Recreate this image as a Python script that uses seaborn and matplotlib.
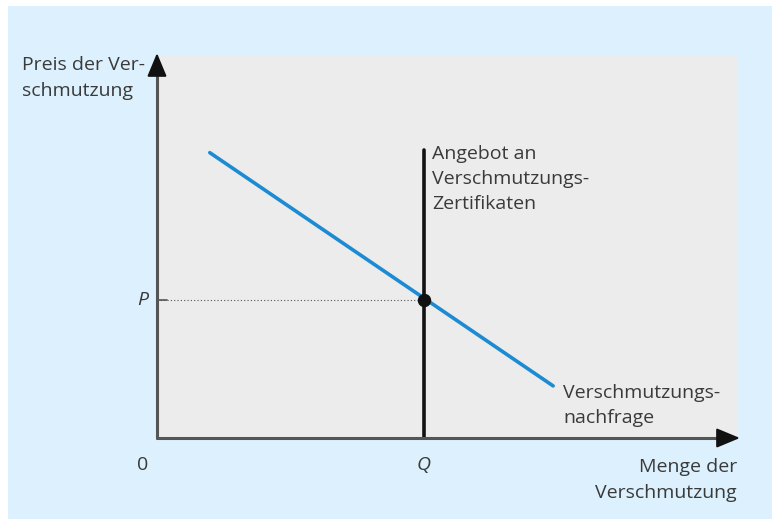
import numpy as np
import pandas as pd
import matplotlib.pyplot as plt
import seaborn as sns

# Werte (Achsen 0..10)
nachfrage_x = [0.91, 6.83]
nachfrage_y = [7.45, 1.36]
angebot_x = [4.6, 4.6]
angebot_y = [0.0, 7.52]
gleichgewicht_q = 4.6
gleichgewicht_p = 3.6

sns.set_theme(style="white")
plt.rcParams['font.family'] = ['Open Sans', 'DejaVu Sans']

txt = '#3a3a3a'
blau_bg = '#dcf1fd'
grau_bg = '#ececec'

fig = plt.figure(figsize=(7.72, 5.19), dpi=100)
fig.patch.set_facecolor('white')
# blauer Hintergrund (weisser Rand oben/links)
bg = fig.add_axes([8 / 772, 0, 1 - 8 / 772, 1 - 6 / 519], zorder=-5)
bg.set_axis_off()
bg.add_patch(plt.Rectangle((0, 0), 1, 1, transform=bg.transAxes, facecolor=blau_bg, edgecolor='none'))

ax = fig.add_axes([157 / 772, 1 - 438 / 519, (737 - 157) / 772, (438 - 55) / 519])
ax.set_facecolor(grau_bg)
ax.set_xlim(0, 10)
ax.set_ylim(0, 10)
for s in ax.spines.values():
    s.set_visible(False)
ax.set_xticks([])
ax.set_yticks([])

df_n = pd.DataFrame({'x': nachfrage_x, 'y': nachfrage_y})
df_a = pd.DataFrame({'x': angebot_x, 'y': angebot_y})
sns.lineplot(data=df_n, x='x', y='y', ax=ax, color='#1c8bd3', linewidth=2.6,
             sort=False, estimator=None)
sns.lineplot(data=df_a, x='x', y='y', ax=ax, color='#111111', linewidth=2.6,
             sort=False, estimator=None)
ax.set_xlabel('')
ax.set_ylabel('')

# gepunktete Hilfslinie und Gleichgewichtspunkt
ax.plot([0, gleichgewicht_q], [gleichgewicht_p, gleichgewicht_p], color='#555555',
        linestyle=(0, (1, 2)), linewidth=0.8)
ax.plot([0, 0.18], [gleichgewicht_p, gleichgewicht_p], color='#555555', linewidth=1.2)
ax.scatter([gleichgewicht_q], [gleichgewicht_p], s=75, color='#111111', zorder=5)

# Achsen (grau) mit schwarzen Pfeilspitzen
ax.plot([0, 0], [0, 9.6], color='#555555', lw=2.2, clip_on=False)
ax.plot([0, 9.75], [0, 0], color='#555555', lw=2.2, clip_on=False)
ax.annotate('', xy=(0, 10.05), xytext=(0, 9.55), annotation_clip=False,
            arrowprops=dict(arrowstyle='-|>,head_length=1.2,head_width=0.5',
                            color='#111111', lw=1.5, shrinkA=0, shrinkB=0))
ax.annotate('', xy=(10.05, 0), xytext=(9.72, 0), annotation_clip=False,
            arrowprops=dict(arrowstyle='-|>,head_length=1.2,head_width=0.5',
                            color='#111111', lw=1.5, shrinkA=0, shrinkB=0))

fs = 14
ls = 1.5
fig.text(22 / 772, 1 - 78 / 519, 'Preis der Ver-\nschmutzung', fontsize=fs, color=txt,
         ha='left', va='center', linespacing=ls)
ax.text(-0.15, gleichgewicht_p, 'P', fontsize=fs, color=txt, ha='right', va='center', style='italic')
ax.text(-0.15, -0.7, '0', fontsize=fs, color=txt, ha='right', va='center')
ax.text(gleichgewicht_q, -0.7, 'Q', fontsize=fs, color=txt, ha='center', va='center', style='italic')
ax.text(10.0, -1.1, 'Menge der\nVerschmutzung', fontsize=fs, color=txt, ha='right', va='center',
        linespacing=1.55)
ax.text(4.75, 7.65, 'Angebot an\nVerschmutzungs-\nZertifikaten', fontsize=fs, color=txt,
        ha='left', va='top', linespacing=ls)
ax.text(7.0, 0.85, 'Verschmutzungs-\nnachfrage', fontsize=fs, color=txt, ha='left', va='center',
        linespacing=ls)

fig.savefig('out.png', dpi=100, facecolor=fig.get_facecolor())
